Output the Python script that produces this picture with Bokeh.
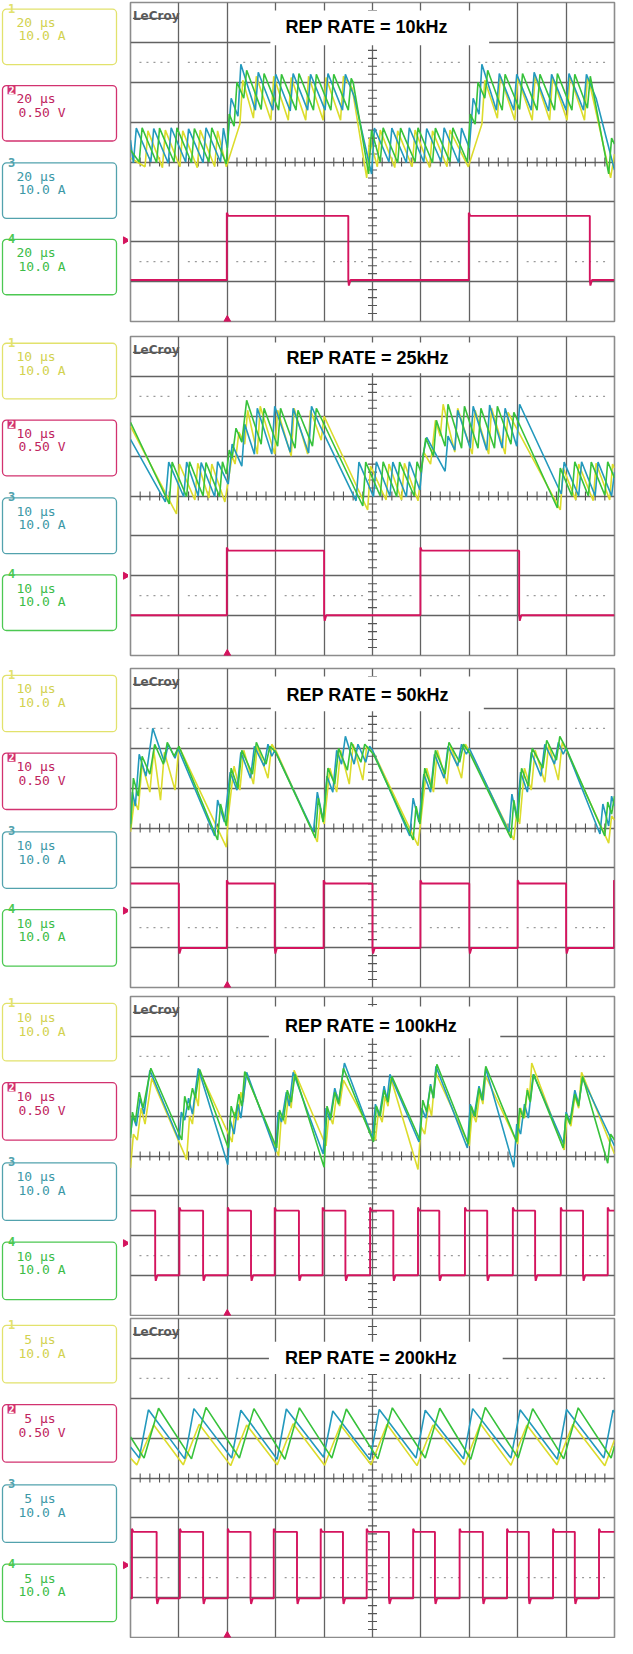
import math
from bokeh.plotting import figure
from bokeh.layouts import column, row
from bokeh.models import Range1d, Grid, FixedTicker, BoxAnnotation
from bokeh.embed import file_html
from bokeh.resources import INLINE
from bokeh.core.properties import value

# ---------------- texts ----------------
TITLES = ["REP RATE = 10kHz", "REP RATE = 25kHz", "REP RATE = 50kHz",
          "REP RATE = 100kHz", "REP RATE = 200kHz"]
TIME_PER_DIV = ["20 µs", "10 µs", "10 µs", "10 µs", "5 µs"]
CH_NUM = ["1", "2", "3", "4"]
CH_SCALE = ["10.0 A", "0.50 V", "10.0 A", "10.0 A"]

# ---------------- channel 2 (voltage, square wave) edges, in divisions ----------------
P1_RED_RISE = [1.99, 6.99]
P1_RED_FALL = [4.50, 9.49]
P1_RED_LEVELS = [-1.35, -2.96]
P2_RED_RISE = [1.99, 5.99]
P2_RED_FALL = [4.00, 8.03]
P2_RED_LEVELS = [-1.37, -2.99]
P3_RED_RISE = [1.99, 3.99, 5.99, 8.00, 9.99]
P3_RED_FALL = [1.00, 2.98, 5.00, 7.00, 9.00]
P3_RED_LEVELS = [-1.39, -3.01]
P4_RED_RISE = [1.01, 2.01, 2.98, 3.97, 4.95, 5.94, 6.91, 7.90, 8.89, 9.86]
P4_RED_FALL = [0.51, 1.50, 2.49, 3.48, 4.44, 5.43, 6.38, 7.37, 8.36, 9.35]
P4_RED_LEVELS = [-1.37, -2.99]
P5_RED_RISE = [0.03, 1.02, 2.01, 2.96, 3.93, 4.88, 5.84, 6.80, 7.78, 8.73, 9.68]
P5_RED_FALL = [0.54, 1.50, 2.48, 3.44, 4.39, 5.34, 6.29, 7.28, 8.23, 9.18]
P5_RED_LEVELS = [-1.35, -3.02]

# ---------------- panel 1 currents (time in divisions, value in divisions) ----------------
P1_TEAL_T = [0.00,
    0.06, 0.12, 0.42, 0.48, 0.78, 0.84, 1.14, 1.20, 1.50, 1.56, 1.86, 1.92,
    2.00, 2.08, 2.22, 2.28, 2.58, 2.64, 2.94, 3.00, 3.30, 3.36, 3.66, 3.72, 4.02, 4.08, 4.38, 4.44,
    4.62, 4.98, 5.04,
    5.34, 5.40, 5.70, 5.76, 6.06, 6.12, 6.42, 6.48, 6.78, 6.84,
    7.00, 7.08, 7.20, 7.26, 7.56, 7.62, 7.92, 7.98, 8.28, 8.34, 8.64, 8.70, 9.00, 9.06, 9.36, 9.42,
    9.62, 10.00]
P1_TEAL_Y = [0.55,
    -0.02, 0.85, 0.00, 0.84, -0.03, 0.86, 0.00, 0.83, -0.02, 0.86, 0.00, 0.85,
    0.35, 1.60, 1.15, 2.45, 1.30, 2.25, 1.30, 2.20, 1.28, 2.22, 1.30, 2.20, 1.30, 2.22, 1.30, 2.20,
    1.65, -0.30, 0.85,
    0.00, 0.85, -0.02, 0.86, 0.00, 0.84, 0.00, 0.86, -0.02, 0.85,
    0.35, 1.60, 1.20, 2.45, 1.30, 2.22, 1.30, 2.20, 1.30, 2.25, 1.28, 2.20, 1.30, 2.22, 1.30, 2.20,
    1.60, -0.20]
P1_GREEN_T = [0.00,
    0.18, 0.24, 0.54, 0.60, 0.90, 0.96, 1.26, 1.32, 1.62, 1.68,
    1.98, 2.04, 2.14, 2.20, 2.34, 2.40, 2.70, 2.76, 3.06, 3.12, 3.42, 3.48, 3.78, 3.84, 4.14, 4.20, 4.50, 4.56,
    4.60, 4.92, 4.98,
    5.16, 5.22, 5.52, 5.58, 5.88, 5.94, 6.24, 6.30, 6.60, 6.66,
    6.96, 7.02, 7.12, 7.18, 7.32, 7.38, 7.68, 7.74, 8.04, 8.10, 8.40, 8.46, 8.76, 8.82, 9.12, 9.18, 9.44, 9.50,
    9.88, 9.94, 10.00]
P1_GREEN_Y = [0.30,
    0.00, 0.86, -0.02, 0.85, 0.00, 0.86, -0.02, 0.84, 0.00, 0.86,
    -0.05, 1.20, 0.90, 2.00, 1.60, 2.30, 1.32, 2.22, 1.30, 2.20, 1.30, 2.22, 1.30, 2.20, 1.30, 2.20, 1.30, 2.10,
    2.00, -0.30, 0.80,
    0.00, 0.86, -0.02, 0.85, 0.00, 0.86, -0.02, 0.85, 0.00, 0.86,
    0.00, 1.20, 0.95, 2.00, 1.60, 2.30, 1.30, 2.20, 1.32, 2.22, 1.30, 2.20, 1.30, 2.22, 1.30, 2.20, 1.35, 2.15,
    -0.30, 0.60, 0.45]
P1_YELLOW_T = [0.00,
    0.30, 0.36, 0.66, 0.72, 1.02, 1.08, 1.38, 1.44, 1.74, 1.80,
    1.98, 2.26, 2.32, 2.54, 2.60, 2.90, 2.96, 3.26, 3.32, 3.62, 3.68, 3.98, 4.04, 4.34, 4.40,
    4.58, 4.88, 4.94,
    5.10, 5.16, 5.46, 5.52, 5.82, 5.88, 6.18, 6.24, 6.54, 6.60,
    6.98, 7.26, 7.32, 7.58, 7.64, 7.94, 8.00, 8.30, 8.36, 8.66, 8.72, 9.02, 9.08, 9.38, 9.44,
    9.50, 9.92, 10.00]
P1_YELLOW_Y = [0.10,
    -0.12, 0.78, -0.14, 0.80, -0.12, 0.78, -0.14, 0.80, -0.12, 0.78,
    -0.12, 0.95, 2.05, 1.10, 2.15, 1.05, 2.15, 1.05, 2.12, 1.05, 2.15, 1.05, 2.12, 1.05, 2.15,
    1.85, -0.40, 0.60,
    -0.12, 0.80, -0.14, 0.78, -0.12, 0.80, -0.14, 0.78, -0.12, 0.80,
    -0.12, 0.95, 2.05, 1.10, 2.15, 1.05, 2.12, 1.05, 2.15, 1.05, 2.12, 1.05, 2.15, 1.05, 2.10,
    1.90, -0.40, 0.20]

# ---------------- panel 2 currents ----------------
P2_TEAL_T = [0.00, 0.72, 0.79,
    1.10, 1.16, 1.40, 1.46, 1.74, 1.80,
    2.02, 2.10, 2.30, 2.36, 2.56, 2.62, 2.92, 2.98, 3.30, 3.36, 3.68, 3.74,
    3.92, 4.66, 4.72,
    5.02, 5.08, 5.36, 5.42, 5.70, 5.76,
    5.98, 6.04, 6.12, 6.50, 6.56, 6.70, 6.76, 7.02, 7.08, 7.36, 7.42, 7.68, 7.74, 7.98, 8.04,
    8.90, 8.96, 9.26, 9.32, 9.60, 9.66, 9.94, 10.00]
P2_TEAL_Y = [1.42, -0.15, 0.85,
    -0.02, 0.85, 0.00, 0.84, -0.02, 0.86,
    0.30, 1.30, 0.75, 1.80, 1.05, 2.20, 1.05, 2.25, 1.10, 2.20, 1.08, 2.25,
    1.75, -0.12, 0.85,
    -0.02, 0.86, 0.00, 0.85, -0.02, 0.86,
    0.15, 1.00, 1.47, 0.62, 1.50, 1.15, 2.15, 1.20, 2.25, 1.15, 2.28, 1.20, 2.20, 1.25, 2.30,
    0.05, 0.85, 0.00, 0.86, 0.00, 0.85, 0.00, 0.60]
P2_GREEN_T = [0.00, 0.80, 0.86,
    1.16, 1.22, 1.50, 1.56, 1.84, 1.90,
    1.98, 2.04, 2.10, 2.18, 2.30, 2.40, 2.70, 2.76, 3.04, 3.10, 3.40, 3.46, 3.76, 3.84,
    3.98, 4.80, 4.86,
    5.16, 5.22, 5.50, 5.56, 5.86, 5.92,
    6.00, 6.10, 6.26, 6.32, 6.50, 6.56, 6.84, 6.90, 7.18, 7.24, 7.52, 7.58, 7.86, 7.92,
    8.82, 8.88, 9.12, 9.18, 9.46, 9.52, 9.80, 9.86, 10.00]
P2_GREEN_Y = [1.85, -0.20, 0.85,
    -0.02, 0.86, 0.00, 0.84, -0.02, 0.86,
    0.55, 1.15, 0.95, 1.70, 1.35, 2.40, 1.30, 2.20, 1.25, 2.20, 1.20, 2.15, 1.25, 2.20,
    1.85, -0.25, 0.85,
    0.00, 0.86, -0.02, 0.85, 0.00, 0.86,
    0.60, 1.45, 1.00, 1.90, 1.25, 2.30, 1.20, 2.25, 1.20, 2.20, 1.20, 2.25, 1.30, 2.10,
    -0.30, 0.70, 0.00, 0.86, 0.00, 0.85, 0.02, 0.86, 0.45]
P2_YELLOW_T = [0.00, 0.95, 1.01,
    1.33, 1.39, 1.62, 1.68,
    1.95, 2.10, 2.16, 2.24, 2.36, 2.42, 2.62, 2.68, 2.98, 3.04, 3.32, 3.38, 3.66, 3.72, 3.94, 4.00,
    4.90, 4.96, 5.28, 5.34, 5.60, 5.66,
    5.94, 6.06, 6.20, 6.30, 6.40, 6.46, 6.70, 6.76, 7.06, 7.12, 7.40, 7.46, 7.74, 7.80,
    8.88, 8.94, 9.20, 9.26, 9.56, 9.62, 9.90, 9.96, 10.00]
P2_YELLOW_Y = [1.75, -0.45, 0.80,
    -0.10, 0.82, -0.05, 0.80,
    -0.15, 1.00, 0.80, 1.60, 1.30, 2.15, 1.05, 2.25, 1.05, 2.15, 1.00, 2.20, 1.05, 2.15, 1.40, 2.00,
    -0.35, 0.75, -0.10, 0.80, -0.10, 0.82,
    -0.12, 1.10, 0.80, 1.90, 1.50, 2.30, 1.10, 2.20, 1.05, 2.15, 1.05, 2.20, 1.05, 2.10,
    -0.35, 0.70, -0.10, 0.80, -0.12, 0.82, -0.10, 0.80, 0.70]

# ---------------- panel 3 currents ----------------
P3_TEAL_T = [0.00, 0.04, 0.10, 0.18, 0.32, 0.46, 0.70, 0.78, 0.92, 0.98,
    1.74, 1.80, 1.94,
    2.06, 2.20, 2.28, 2.48, 2.56, 2.76, 2.84, 2.92, 2.98,
    3.78, 3.86, 3.98,
    4.06, 4.18, 4.26, 4.36, 4.44, 4.62, 4.70, 4.86, 4.94, 5.00,
    5.77, 5.84, 5.96,
    6.06, 6.20, 6.28, 6.48, 6.56, 6.76, 6.84, 6.94, 7.00,
    7.82, 7.88, 7.98,
    8.06, 8.20, 8.28, 8.48, 8.56, 8.76, 8.84, 8.94, 9.00,
    9.70, 9.76, 9.88, 9.94, 10.00]
P3_TEAL_Y = [0.10, 0.90, 0.55, 1.85, 1.30, 2.50, 1.65, 2.10, 1.75, 2.00,
    -0.20, 0.70, 0.15,
    1.40, 0.95, 1.90, 1.25, 2.05, 1.55, 2.10, 1.80, 1.95,
    -0.10, 0.90, 0.20,
    1.30, 0.90, 1.95, 1.60, 2.30, 1.60, 2.10, 1.65, 2.05, 1.95,
    -0.20, 0.75, 0.15,
    1.35, 0.90, 1.85, 1.25, 2.05, 1.55, 2.10, 1.85, 2.00,
    -0.10, 0.85, 0.25,
    1.40, 0.90, 1.90, 1.30, 2.10, 1.60, 2.15, 1.85, 2.00,
    -0.15, 0.60, 0.05, 0.80, 0.55]
P3_GREEN_T = [0.00, 0.06, 0.16, 0.24, 0.40, 0.50, 0.68, 0.76, 0.90, 1.00,
    1.80, 1.86, 1.98,
    2.08, 2.22, 2.30, 2.52, 2.60, 2.80, 2.88, 3.00,
    3.82, 3.88, 3.98,
    4.08, 4.22, 4.30, 4.48, 4.56, 4.76, 4.84, 5.02,
    5.84, 5.90, 5.98,
    6.08, 6.22, 6.30, 6.50, 6.58, 6.80, 6.88, 7.02,
    7.86, 7.92, 8.00,
    8.08, 8.22, 8.30, 8.52, 8.60, 8.80, 8.87, 9.02,
    9.80, 9.86, 9.94, 10.00]
P3_GREEN_Y = [0.00, 1.25, 0.80, 1.80, 1.35, 2.10, 1.60, 2.15, 1.80, 2.05,
    -0.30, 0.60, 0.05,
    1.50, 1.00, 1.95, 1.35, 2.15, 1.60, 2.05, 1.90,
    -0.25, 0.75, 0.15,
    1.50, 1.10, 2.00, 1.45, 2.15, 1.65, 2.10, 1.85,
    -0.30, 0.55, 0.10,
    1.50, 1.00, 1.95, 1.35, 2.15, 1.65, 2.10, 1.85,
    -0.25, 0.70, 0.15,
    1.50, 1.05, 2.00, 1.50, 2.20, 1.70, 2.30, 1.95,
    -0.20, 0.65, 0.35, 0.80]
P3_YELLOW_T = [0.00, 0.08, 0.16, 0.24, 0.40, 0.48, 0.62, 0.70, 0.92, 1.00,
    1.98, 2.02,
    2.14, 2.26, 2.34, 2.54, 2.62, 2.84, 2.92, 3.02,
    3.86, 3.92, 4.00,
    4.12, 4.26, 4.34, 4.52, 4.60, 4.80, 4.88, 5.04,
    5.94, 6.00,
    6.12, 6.26, 6.34, 6.54, 6.62, 6.84, 6.92, 7.04,
    7.92, 7.98, 8.04,
    8.14, 8.28, 8.36, 8.56, 8.64, 8.84, 8.92, 9.04,
    9.88, 9.94, 10.00]
P3_YELLOW_Y = [-0.10, 0.70, 0.45, 1.60, 0.90, 1.95, 0.70, 1.90, 0.95, 2.05,
    -0.48, 0.30,
    1.55, 0.95, 1.95, 1.10, 2.05, 1.25, 2.10, 1.90,
    -0.35, 0.50, 0.10,
    1.50, 0.90, 1.95, 1.10, 2.10, 1.20, 2.05, 1.85,
    -0.44, 0.20,
    1.50, 0.90, 1.95, 1.10, 2.05, 1.25, 2.10, 1.85,
    -0.30, 0.40, 0.10,
    1.50, 0.95, 1.95, 1.15, 2.10, 1.20, 2.15, 1.85,
    -0.38, 0.30, 0.20]

# ---------------- panel 4 currents ----------------
P4_TEAL_T = [0.00, 0.05, 0.12, 0.20, 0.28, 0.40,
    1.00, 1.05, 1.12, 1.20, 1.28, 1.40,
    2.01, 2.06, 2.14, 2.22, 2.28, 2.40,
    3.00, 3.05, 3.12, 3.22, 3.28, 3.36,
    3.98, 4.04, 4.12, 4.22, 4.30, 4.42,
    5.00, 5.06, 5.14, 5.24, 5.30, 5.36,
    5.96, 6.02, 6.10, 6.20, 6.26, 6.31,
    6.96, 7.02, 7.10, 7.20, 7.28, 7.34,
    7.92, 7.98, 8.06, 8.14, 8.22, 8.32,
    8.95, 9.00, 9.08, 9.18, 9.26, 9.34,
    10.00]
P4_TEAL_Y = [0.55, 1.00, 0.75, 1.45, 1.05, 2.15,
    0.40, 1.10, 0.90, 1.45, 1.05, 2.20,
    -0.22, 0.90, 0.55, 1.30, 0.95, 2.10,
    0.10, 1.10, 0.85, 1.60, 1.25, 2.10,
    0.05, 1.20, 0.90, 1.70, 1.35, 2.33,
    0.45, 1.30, 1.00, 1.75, 1.40, 2.05,
    0.35, 1.20, 0.95, 1.80, 1.45, 2.25,
    0.20, 1.30, 1.00, 1.75, 1.40, 2.20,
    -0.28, 0.80, 0.55, 1.30, 0.95, 2.05,
    0.30, 1.10, 0.85, 1.65, 1.30, 1.95,
    0.25]
P4_GREEN_T = [0.00, 0.04, 0.10, 0.18, 0.26, 0.42,
    1.06, 1.12, 1.20, 1.28, 1.34, 1.43,
    2.02, 2.08, 2.16, 2.24, 2.30, 2.36,
    3.02, 3.08, 3.16, 3.24, 3.32, 3.40,
    4.00, 4.06, 4.14, 4.22, 4.30, 4.40,
    5.02, 5.08, 5.16, 5.24, 5.32, 5.40,
    5.98, 6.04, 6.12, 6.20, 6.26, 6.33,
    6.98, 7.04, 7.12, 7.20, 7.26, 7.34,
    7.98, 8.04, 8.12, 8.20, 8.26, 8.33,
    8.94, 9.00, 9.08, 9.18, 9.26, 9.34,
    9.86, 9.92, 10.00]
P4_GREEN_Y = [0.45, 1.10, 0.85, 1.60, 1.20, 2.20,
    0.40, 1.50, 1.15, 1.70, 1.45, 2.17,
    0.20, 1.25, 0.95, 1.55, 1.25, 2.12,
    0.20, 1.15, 0.90, 1.65, 1.35, 2.05,
    -0.28, 1.25, 0.95, 1.60, 1.30, 2.20,
    0.35, 1.25, 1.00, 1.65, 1.35, 2.00,
    0.40, 1.40, 1.10, 1.75, 1.45, 2.30,
    0.30, 1.25, 1.00, 1.70, 1.40, 2.25,
    0.35, 1.20, 0.95, 1.65, 1.35, 2.05,
    0.20, 1.05, 0.80, 1.55, 1.25, 2.00,
    -0.18, 0.55, 0.40]
P4_YELLOW_T = [0.00, 0.06, 0.14, 0.22, 0.30, 0.44,
    1.16, 1.22, 1.28, 1.34, 1.40, 1.44,
    2.10, 2.15, 2.22, 2.28, 2.33, 2.38,
    3.06, 3.12, 3.20, 3.26, 3.32, 3.38,
    4.04, 4.10, 4.18, 4.26, 4.32, 4.40,
    5.06, 5.12, 5.20, 5.26, 5.32, 5.38,
    5.94, 6.00, 6.08, 6.16, 6.22, 6.30,
    7.00, 7.06, 7.14, 7.22, 7.28, 7.34,
    8.00, 8.06, 8.14, 8.20, 8.24, 8.29,
    8.96, 9.02, 9.10, 9.18, 9.26, 9.32,
    10.00]
P4_YELLOW_Y = [-0.30, 0.55, 0.40, 1.20, 0.80, 1.95,
    -0.09, 1.00, 0.80, 1.55, 1.25, 2.10,
    0.35, 1.10, 0.90, 1.60, 1.35, 2.10,
    0.00, 1.05, 0.80, 1.50, 1.20, 2.15,
    0.25, 1.05, 0.80, 1.55, 1.25, 1.90,
    0.40, 1.10, 0.85, 1.50, 1.25, 1.95,
    -0.34, 0.75, 0.55, 1.30, 1.00, 2.10,
    0.25, 1.10, 0.85, 1.60, 1.30, 2.00,
    0.30, 1.20, 0.95, 1.70, 1.40, 2.33,
    0.15, 1.00, 0.75, 1.50, 1.20, 2.10,
    0.05]

# ---------------- panel 5 currents ----------------
P5_TEAL_T = [0.00, 0.18, 0.37, 1.12, 1.31, 2.09, 2.28, 3.03, 3.22, 3.99, 4.18, 4.95, 5.14,
    5.90, 6.09, 6.88, 7.07, 7.86, 8.05, 8.82, 9.01, 9.78, 9.97, 10.00]
P5_TEAL_Y = [0.78, 0.50, 1.71, 0.48, 1.74, 0.50, 1.70, 0.47, 1.73, 0.52, 1.68, 0.46, 1.72,
    0.50, 1.70, 0.48, 1.74, 0.50, 1.71, 0.47, 1.72, 0.50, 1.70, 1.65]
P5_GREEN_T = [0.00, 0.28, 0.58, 1.26, 1.56, 2.25, 2.55, 3.19, 3.49, 4.16, 4.46, 5.11, 5.41,
    6.09, 6.39, 7.03, 7.33, 8.01, 8.31, 8.95, 9.25, 9.93, 10.00]
P5_GREEN_Y = [1.03, 0.50, 1.75, 0.48, 1.77, 0.50, 1.74, 0.47, 1.76, 0.50, 1.73, 0.48, 1.76,
    0.50, 1.75, 0.47, 1.77, 0.50, 1.74, 0.48, 1.76, 0.50, 0.80]
P5_YELLOW_T = [0.00, 0.13, 0.48, 1.09, 1.42, 2.07, 2.40, 3.03, 3.36, 4.01, 4.34, 4.97, 5.30,
    5.92, 6.25, 6.90, 7.23, 7.86, 8.19, 8.81, 9.14, 9.80, 10.00]
P5_YELLOW_Y = [0.50, 0.33, 1.33, 0.33, 1.35, 0.31, 1.33, 0.33, 1.36, 0.32, 1.33, 0.33, 1.35,
    0.31, 1.33, 0.33, 1.36, 0.32, 1.33, 0.33, 1.35, 0.31, 0.95]

# ---------------- styling ----------------
YELLOW = "#dcdc2c"
RED = "#d4145e"
TEAL = "#2399bd"
GREEN = "#37c23b"
BOX_COL = ["#e2e26c", "#d2326f", "#52a2ad", "#4cc852"]
TXT_COL = ["#d2d250", "#c0245e", "#3c98a6", "#3cbc48"]
GRID_COL = "#626262"

ROW_H = [334, 332, 328, 322, 322]
FRAME_H = 319
TOP_B = 2
LABEL_W = 128
SCOPE_W = 488

# title white box and title position per panel (in divisions)
TITLE_BOX = [(2.89, 7.41, 2.93, 3.80, 4.88, 3.38),
             (2.90, 7.45, 3.08, 3.85, 4.90, 3.47),
             (2.90, 7.30, 2.93, 3.80, 4.90, 3.34),
             (2.86, 7.64, 2.95, 3.75, 4.97, 3.27),
             (2.86, 7.69, 2.61, 3.42, 4.97, 3.00)]

RED_DATA = [(P1_RED_RISE, P1_RED_FALL, P1_RED_LEVELS),
            (P2_RED_RISE, P2_RED_FALL, P2_RED_LEVELS),
            (P3_RED_RISE, P3_RED_FALL, P3_RED_LEVELS),
            (P4_RED_RISE, P4_RED_FALL, P4_RED_LEVELS),
            (P5_RED_RISE, P5_RED_FALL, P5_RED_LEVELS)]
CUR_DATA = [
    [(P1_YELLOW_T, P1_YELLOW_Y, YELLOW), (P1_TEAL_T, P1_TEAL_Y, TEAL), (P1_GREEN_T, P1_GREEN_Y, GREEN)],
    [(P2_YELLOW_T, P2_YELLOW_Y, YELLOW), (P2_TEAL_T, P2_TEAL_Y, TEAL), (P2_GREEN_T, P2_GREEN_Y, GREEN)],
    [(P3_YELLOW_T, P3_YELLOW_Y, YELLOW), (P3_TEAL_T, P3_TEAL_Y, TEAL), (P3_GREEN_T, P3_GREEN_Y, GREEN)],
    [(P4_YELLOW_T, P4_YELLOW_Y, YELLOW), (P4_TEAL_T, P4_TEAL_Y, TEAL), (P4_GREEN_T, P4_GREEN_Y, GREEN)],
    [(P5_YELLOW_T, P5_YELLOW_Y, YELLOW), (P5_TEAL_T, P5_TEAL_Y, TEAL), (P5_GREEN_T, P5_GREEN_Y, GREEN)],
]


def square_wave(rises, falls, levels):
    hi, lo = levels
    events = sorted([(t, "r") for t in rises] + [(t, "f") for t in falls])
    level = hi if events[0][1] == "f" else lo
    t, v = [0.0], [level]
    for te, kind in events:
        if kind == "r":
            t += [te, te, te + 0.03]
            v += [lo, hi + 0.08, hi]
            level = hi
        else:
            t += [te, te, te + 0.012, te + 0.045]
            v += [hi, lo, lo - 0.14, lo]
            level = lo
    t.append(10.0)
    v.append(level)
    return t, v


def scope_panel(i):
    h = ROW_H[i]
    p = figure(width=SCOPE_W, height=h, x_range=Range1d(0, 10), y_range=Range1d(-4, 4),
               x_axis_type=None, y_axis_type=None, toolbar_location=None,
               output_backend="svg", min_border_left=2, min_border_right=2,
               min_border_top=TOP_B, min_border_bottom=h - TOP_B - FRAME_H,
               outline_line_color="#8c8c8c", outline_line_width=1.6,
               background_fill_color="white", border_fill_color="white")
    p.add_layout(Grid(dimension=0, ticker=FixedTicker(ticks=list(range(1, 10))),
                      grid_line_color=GRID_COL, grid_line_width=1.3))
    p.add_layout(Grid(dimension=1, ticker=FixedTicker(ticks=list(range(-3, 4))),
                      grid_line_color=GRID_COL, grid_line_width=1.3))
    # dotted reference lines
    for yy in (2.5, -2.5):
        p.segment(x0=[k + 0.185 for k in range(10)], x1=[k + 0.83 for k in range(10)],
                  y0=[yy] * 10, y1=[yy] * 10, line_color="#9a9a9a", line_width=1.3,
                  line_dash=value("2 5"))
    # centre-line minor ticks
    ty = [j / 5 for j in range(-19, 20) if j % 5 != 0]
    tx = [j / 5 for j in range(1, 50) if j % 5 != 0]
    p.scatter(x=[5] * len(ty), y=ty, marker="dash", size=9, line_color="#555555", line_width=1.1)
    p.scatter(x=tx, y=[0] * len(tx), marker="dash", angle=math.pi / 2, size=9,
              line_color="#555555", line_width=1.1)
    # title with white box
    bx0, bx1, by0, by1, cx, cy = TITLE_BOX[i]
    p.quad(left=[bx0], right=[bx1], bottom=[by0], top=[by1], fill_color="white", line_color=None)
    p.text(x=[cx], y=[cy], text=[TITLES[i]], text_font=value("Liberation Sans"),
           text_font_style="bold", text_font_size="18px", text_align="center",
           text_baseline="middle", text_color="black")
    # LeCroy logo
    p.text(x=[0.05], y=[3.66], text=["LeCroy"], text_font=value("DejaVu Sans"),
           text_font_style="bold", text_font_size="12px", text_color="#5a5a5a",
           text_baseline="alphabetic", text_align="left")
    p.segment(x0=[0.05], x1=[1.0], y0=[3.60], y1=[3.60], line_color="#5a5a5a", line_width=1.2)
    # waveforms
    for tt, yy, col in CUR_DATA[i]:
        n = min(len(tt), len(yy))
        p.line(tt[:n], yy[:n], line_color=col, line_width=1.6)
    rt, rv = square_wave(*RED_DATA[i])
    p.line(rt, rv, line_color=RED, line_width=1.9)
    p.scatter(x=[2.0], y=[-3.95], marker="triangle", size=7, color=RED)
    return p


def label_panel(i):
    h = ROW_H[i]
    p = figure(width=LABEL_W, height=h, x_range=Range1d(0, LABEL_W), y_range=Range1d(0, h),
               x_axis_type=None, y_axis_type=None, toolbar_location=None,
               output_backend="svg", min_border=0, outline_line_color=None,
               background_fill_color="white", border_fill_color="white")
    tops = [7, 87, 168, 248]
    fs = 13
    cw = 0.602 * fs
    for c in range(4):
        bt = tops[c]
        p.add_layout(BoxAnnotation(left=2, right=116, top=h - bt, bottom=h - bt - 58,
                                   fill_color=None, line_color=BOX_COL[c], line_alpha=1.0,
                                   line_width=1.3, border_radius=4))
        if c == 1:
            p.quad(left=[7], right=[15], top=[h - bt], bottom=[h - bt - 9],
                   fill_color=BOX_COL[c], line_color=None)
            p.text(x=[11], y=[h - bt - 4.5], text=[CH_NUM[c]], text_font=value("DejaVu Sans Mono"),
                   text_font_style="bold", text_font_size="10px", text_color="white",
                   text_align="center", text_baseline="middle")
        else:
            p.quad(left=[6], right=[16], top=[h - bt + 6], bottom=[h - bt - 5],
                   fill_color="white", line_color=None)
            p.text(x=[11], y=[h - bt + 1], text=[CH_NUM[c]], text_font=value("DejaVu Sans Mono"),
                   text_font_style="bold", text_font_size="12px", text_color=BOX_COL[c],
                   text_align="center", text_baseline="middle")
        p.text(x=[16 + 5 * cw], y=[h - bt - 14], text=[TIME_PER_DIV[i]],
               text_font=value("DejaVu Sans Mono"), text_font_size=f"{fs}px",
               text_color=TXT_COL[c], text_align="right", text_baseline="middle")
        p.text(x=[18], y=[h - bt - 28], text=[CH_SCALE[c]],
               text_font=value("DejaVu Sans Mono"), text_font_size=f"{fs}px",
               text_color=TXT_COL[c], text_align="left", text_baseline="middle")
    # trigger level marker
    p.scatter(x=[125], y=[h - 249], marker="triangle", angle=-math.pi / 2, size=7, color=RED)
    return p


rows = [row(label_panel(i), scope_panel(i)) for i in range(5)]
layout = column(*rows)
open("out.html", "w").write(file_html(layout, INLINE, title="REP RATE oscilloscope captures"))
